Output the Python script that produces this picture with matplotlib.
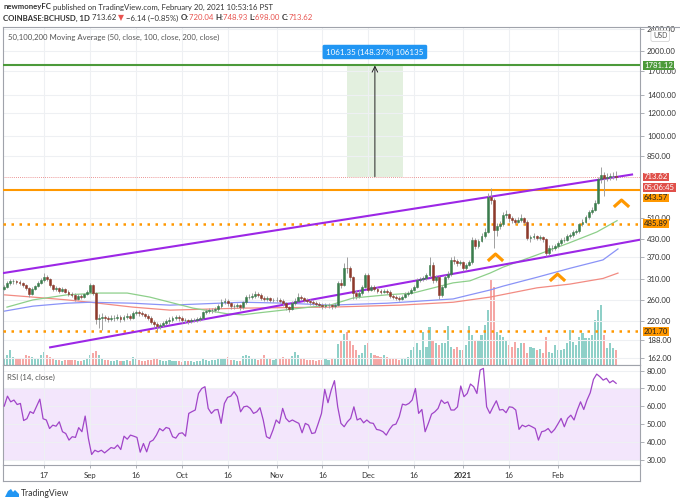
import numpy as np
import matplotlib
matplotlib.use('Agg')
import matplotlib.pyplot as plt
from matplotlib.path import Path
from matplotlib.ticker import FixedLocator, FuncFormatter, NullLocator
from matplotlib.lines import Line2D
from matplotlib.patches import Polygon

# ---------------- data (day index 0 = 2020-08-04, 200 = 2021-02-20) ----------------
closes = [
    290, 300, 304, 304, 302, 300, 295, 288, 274, 285,
    292, 300, 307, 316, 309, 295, 285, 288, 281, 285,
    279, 274, 272, 263, 270, 267, 274, 279, 295, 276,
    223, 225, 227, 225, 223, 225, 225, 227, 223, 227,
    229, 225, 234, 236, 234, 232, 229, 225, 218, 214,
    210, 212, 216, 219, 221, 225, 227, 225, 221, 221,
    219, 221, 221, 223, 225, 236, 238, 240, 240, 242,
    248, 256, 259, 254, 248, 248, 250, 246, 256, 267,
    267, 270, 274, 272, 265, 263, 265, 261, 261, 261,
    259, 254, 246, 242, 254, 259, 267, 265, 261, 259,
    256, 254, 252, 250, 248, 250, 250, 248, 250, 300,
    295, 340, 338, 314, 276, 270, 276, 290, 320, 283,
    290, 285, 281, 279, 281, 279, 270, 267, 265, 263,
    267, 274, 276, 283, 290, 307, 309, 312, 320, 347,
    307, 314, 272, 290, 314, 322, 362, 360, 353, 355,
    338, 347, 355, 427, 405, 423, 440, 455, 606, 593,
    463, 476, 484, 523, 527, 510, 503, 495, 503, 510,
    495, 434, 437, 440, 434, 437, 430, 384, 400, 400,
    404, 417, 427, 427, 440, 444, 455, 459, 484, 495,
    514, 536, 546, 576, 699, 724, 707, 713, 718, 720.04,
    713.62]
first_open = 286
highs = [
    296, 305, 310, 309, 308, 306, 303, 298, 291, 289,
    296, 304, 311, 325, 320, 312, 298, 293, 291, 290,
    288, 283, 278, 275, 273, 273, 277, 283, 300, 298,
    279, 232, 234, 231, 229, 230, 230, 232, 230, 231,
    234, 232, 238, 241, 240, 238, 235, 232, 228, 221,
    217, 216, 220, 223, 226, 229, 231, 230, 228, 225,
    224, 225, 225, 227, 229, 239, 243, 245, 244, 247,
    252, 262, 265, 262, 257, 253, 254, 253, 259, 272,
    273, 276, 280, 278, 275, 269, 270, 268, 266, 267,
    265, 262, 257, 249, 258, 264, 276, 272, 268, 265,
    262, 260, 258, 256, 254, 255, 255, 253, 254, 305,
    310, 352, 372, 345, 318, 282, 282, 295, 326, 324,
    296, 294, 289, 286, 286, 285, 282, 274, 271, 269,
    271, 278, 281, 287, 295, 312, 316, 318, 326, 370,
    355, 320, 318, 296, 320, 330, 370, 375, 366, 362,
    358, 354, 362, 438, 432, 430, 452, 470, 628, 650,
    600, 490, 498, 535, 545, 532, 518, 510, 515, 525,
    515, 500, 445, 450, 445, 444, 442, 433, 408, 410,
    412, 422, 433, 436, 448, 452, 462, 468, 490, 505,
    522, 545, 560, 590, 715, 776, 745, 740, 738, 745,
    748.93]
lows = [
    282, 287, 296, 298, 297, 294, 290, 282, 268, 271,
    282, 289, 297, 303, 304, 290, 280, 281, 277, 278,
    275, 270, 268, 258, 260, 263, 264, 271, 276, 272,
    215, 208, 204, 220, 218, 219, 220, 221, 218, 220,
    223, 221, 223, 231, 229, 228, 225, 221, 214, 208,
    201.7, 206, 209, 213, 215, 218, 221, 220, 216, 216,
    214, 216, 217, 218, 220, 223, 233, 235, 235, 237,
    239, 245, 252, 249, 243, 243, 244, 241, 243, 253,
    262, 263, 266, 267, 260, 258, 259, 256, 256, 256,
    254, 249, 240, 236, 240, 251, 256, 260, 256, 254,
    251, 250, 248, 246, 243, 244, 245, 243, 244, 248,
    288, 292, 325, 305, 262, 262, 265, 272, 287, 278,
    280, 281, 277, 274, 275, 274, 265, 262, 260, 258,
    260, 264, 270, 273, 280, 287, 302, 304, 308, 316,
    300, 302, 262, 268, 287, 310, 318, 350, 345, 347,
    330, 333, 343, 350, 395, 400, 418, 433, 450, 570,
    400, 440, 465, 478, 510, 495, 490, 485, 488, 495,
    485, 425, 420, 428, 425, 427, 420, 375, 378, 390,
    392, 398, 410, 418, 422, 434, 438, 448, 452, 476,
    488, 505, 525, 540, 570, 680, 610, 690, 698, 700,
    698]
volume = [
    7, 10, 15, 8, 6, 7, 7, 10, 9, 8,
    7, 7, 10, 13, 10, 8, 7, 5, 5, 4,
    5, 5, 5, 5, 4, 4, 5, 7, 10, 12,
    14, 10, 7, 5, 5, 4, 4, 5, 4, 4,
    5, 4, 8, 6, 5, 4, 4, 5, 5, 6,
    6, 5, 4, 4, 5, 4, 4, 4, 3, 4,
    4, 4, 3, 4, 4, 6, 5, 4, 5, 5,
    6, 7, 6, 8, 5, 5, 4, 4, 9, 10,
    9, 6, 6, 5, 6, 10, 7, 6, 5, 6,
    6, 8, 7, 6, 9, 13, 10, 7, 6, 5,
    5, 5, 4, 5, 5, 6, 5, 6, 7, 21,
    25, 31, 33, 25, 20, 15, 10, 12, 20, 22,
    12, 10, 9, 8, 10, 8, 7, 6, 6, 5,
    6, 7, 8, 15, 18, 22, 15, 33, 18, 38,
    25, 22, 20, 22, 22, 39, 18, 16, 18, 15,
    15, 20, 39, 30, 25, 25, 30, 40, 55, 85,
    78, 33, 30, 28, 25, 20, 18, 23, 17, 22,
    22, 12, 18, 17, 15, 16, 12, 28, 13, 12,
    20, 15, 15, 16, 22, 35, 23, 20, 28, 32,
    27, 27, 30, 45, 55, 60, 30, 17, 22, 17,
    15]
rsi = [
    60.1, 65.7, 62.5, 63.5, 61, 61.6, 52, 53, 57, 56,
    60, 64, 53, 52.3, 47.5, 49.4, 48.8, 51.3, 45.7, 44.7,
    41, 42.9, 42.5, 48, 45.7, 54.5, 41.9, 32.9, 35.3, 34.4,
    35.3, 33.8, 35.3, 36.8, 36.3, 38.2, 35.7, 43.2, 41.5, 43.8,
    43.2, 42.5, 34.2, 39.1, 34.4, 40, 41, 43.8, 47.5, 46.2,
    48.1, 47.5, 42.9, 42.1, 44.7, 45.1, 43.2, 56, 57, 57.9,
    67.2, 70, 71, 58.8, 56, 57.9, 58.2, 50.4, 61.6, 65,
    65.7, 68.2, 65.4, 56.9, 59.7, 60.1, 58.8, 56, 56.9, 59.2,
    52.3, 42.9, 41.9, 46.6, 52.3, 50.4, 58.8, 53.2, 51.3, 52.3,
    51.3, 50.4, 45.1, 50.4, 49.4, 44.7, 45.1, 50.4, 56, 69.5,
    62, 69.1, 74.4, 59.7, 50.4, 48.5, 51.3, 53.2, 59.7, 52.3,
    53.2, 50.7, 52.3, 50.7, 50.4, 47, 46.6, 45.7, 43.8, 47,
    49.4, 50, 54.1, 61.2, 60.7, 61.6, 63.5, 70, 56, 58.2,
    45.7, 50.4, 55.6, 56.9, 58.8, 63.5, 61.6, 62.5, 57.9, 57.9,
    59.7, 71.4, 65.4, 67.2, 72.5, 71, 67.2, 80.4, 81.3, 59.7,
    56, 59.7, 63.1, 57.9, 58.2, 56.4, 59.7, 59.4, 57.9, 47,
    49.4, 48.5, 49.4, 48.5, 47.5, 41, 45.7, 46.2, 47.5, 45.1,
    47, 50, 53.2, 48.5, 53.2, 55, 52.3, 57.9, 62.5, 58.2,
    63.5, 67.6, 75.1, 78.1, 76.6, 74.7, 75.7, 73.2, 74.4, 72.9]

ma50_days = [0.9, 9.4, 20.5, 31.3, 40.2, 47.6, 54.2, 61.7, 72.8, 78, 83.6, 91.1, 99.9,
             106.5, 114, 125.1, 133.6, 146.7, 152.2, 158.8, 163, 174.1, 184.9, 193.7, 200.3]
ma50 = [246, 261, 272, 276, 276, 267, 256, 244, 233, 231, 235, 240, 246,
        250, 265, 272, 276, 300, 305, 325, 341, 377, 417, 455, 499]
ma100_days = [0, 9.4, 20.5, 28, 42, 54.2, 78, 92.4, 106.5, 125.1, 146.7, 152.2, 158.8,
              163, 174.1, 184.9, 195.7, 200.6]
ma100 = [238, 248, 254, 256, 254, 250, 256, 254, 250, 254, 263, 272, 283,
         292, 314, 338, 362, 396]
ma200_days = [0, 9.4, 20.5, 28, 42, 54.2, 78, 106.5, 129.3, 146.7, 158.8, 174.1, 184.9,
              195.7, 200.6]
ma200 = [272, 267, 261, 256, 246, 240, 244, 246, 250, 256, 267, 288, 297, 311, 325]

channel_upper = ([-0.4, 205.2], [325, 728])
channel_lower = ([15, 207.8], [177, 427])
chevron_days = [160.4, 180.7, 201.6]
chevron_prices = [372, 314, 578]
levels_solid = {'1781.12': (1781.12, '#4c9a3a'), '643.57': (643.57, '#ff9800')}
levels_dotted = [485.89, 201.70]
measure_days = (112.0, 130.3)
measure_prices = (715.35, 1776.70)
measure_text = '1061.35 (148.37%) 106135'

tick_days = [13, 28, 43, 58, 73, 89, 104, 119, 134, 150, 165, 181]
tick_labels = ['17', 'Sep', '16', 'Oct', '16', 'Nov', '16', 'Dec', '16', '2021', '16', 'Feb']
price_ticks = [162, 188, 220, 260, 310, 370, 430, 510, 850, 1000, 1200, 1400, 1700, 2000, 2400]
rsi_ticks = [30, 40, 50, 60, 70, 80]

# ---------------- figure ----------------
plt.rcParams['font.family'] = ['Lato', 'DejaVu Sans']
W, H = 680, 504
fig = plt.figure(figsize=(W / 100, H / 100), dpi=100)
fig.patch.set_facecolor('white')

def fx(px):
    return px / W

def fy(py):
    return 1 - py / H

L, R = 3, 640
TOP, MB, RB = 27, 365, 465
rect_main = [fx(L), fy(MB), (R - L) / W, (MB - TOP) / H]
axv = fig.add_axes(rect_main)
ax = fig.add_axes(rect_main)
axr = fig.add_axes([fx(L), fy(RB), (R - L) / W, (RB - MB) / H])

XMIN, XMAX = -0.4, 207.8
GRID = '#eef0f3'
SPINE = '#a0a3ab'
TXT = '#333333'
LBL = 5.6

days = np.arange(len(closes))
c = np.array(closes, float)
o = np.array([first_open] + closes[:-1], float)
h = np.array(highs, float)
lo = np.array(lows, float)
up = c >= o

# volume (background axes)
axv.set_xlim(XMIN, XMAX)
axv.set_ylim(0, 338)
vcol = np.where(up, '#8fd0c8', '#f5a7a5')
axv.bar(days, volume, width=0.7, color=vcol, linewidth=0)
axv.axis('off')

# main price axes
ax.patch.set_visible(False)
ax.set_yscale('log')
ax.set_xlim(XMIN, XMAX)
ax.set_ylim(153.2, 2434)
ax.yaxis.tick_right()
ax.yaxis.set_major_locator(FixedLocator(price_ticks))
ax.yaxis.set_minor_locator(NullLocator())
ax.yaxis.set_major_formatter(FuncFormatter(lambda v, p: f'{v:.2f}'))
ax.set_xticks(tick_days)
ax.tick_params(axis='x', length=0, labelbottom=False)
ax.tick_params(axis='y', length=3, width=0.6, color=SPINE, labelsize=LBL,
               labelcolor=TXT, pad=2)
ax.grid(True, color=GRID, lw=0.8, zorder=0)
for s in ax.spines.values():
    s.set_color(SPINE)
    s.set_linewidth(0.8)
ax.spines['top'].set_visible(False)

# measurement box
ax.fill_between(measure_days, measure_prices[0], measure_prices[1],
                color='#5aa845', alpha=0.17, lw=0, zorder=1)
mx = (measure_days[0] + measure_days[1]) / 2
ax.annotate('', xy=(mx, measure_prices[1]), xytext=(mx, measure_prices[0]),
            arrowprops=dict(arrowstyle='->', color='#222222', lw=0.7,
                            shrinkA=0, shrinkB=0), zorder=4)
ax.text(mx, 1984, measure_text, ha='center', va='center', fontsize=5.8, color='white',
        zorder=6, bbox=dict(boxstyle='round,pad=0.45,rounding_size=0.2',
                            fc='#2196f3', ec='none'))

# horizontal levels
for lab, (val, col) in levels_solid.items():
    ax.axhline(val, color=col, lw=1.5, zorder=3)
for val in levels_dotted:
    ax.axhline(val, color='#ff9800', lw=1.8, ls=(0, (1, 2.2)), zorder=3)
ax.axhline(closes[-1], color='#e57373', lw=0.6, ls=(0, (1, 1.5)), zorder=2)

# moving averages
ax.plot(ma200_days, ma200, color='#f28b82', lw=0.9, zorder=2)
ax.plot(ma100_days, ma100, color='#8a93f7', lw=0.9, zorder=2)
ax.plot(ma50_days, ma50, color='#8dcf8a', lw=0.9, zorder=2)

# channel
ax.plot(*channel_upper, color='#9c27e6', lw=1.5, zorder=4)
ax.plot(*channel_lower, color='#9c27e6', lw=1.5, zorder=4)

# candles
ccol = np.where(up, '#3b7d4d', '#8e3a2c')
ax.vlines(days, lo, h, colors='#a0a0a0', lw=0.7, zorder=5)
ax.bar(days, np.abs(c - o), bottom=np.minimum(o, c), width=0.62, color=ccol,
       edgecolor=ccol, linewidth=0.4, zorder=5)

# chevrons
chev = Path([(-1, -0.45), (0, 0.45), (1, -0.45)],
            [Path.MOVETO, Path.LINETO, Path.LINETO])
ax.plot(chevron_days, chevron_prices, ls='none', marker=chev, markersize=11,
        markerfacecolor='none', markeredgecolor='#ff9800', markeredgewidth=2.3, zorder=6)

# right-side price labels (stacked like TradingView to avoid overlap)
def plabel(pos, text, fc, tc='white'):
    ax.text(1 + 4 / (R - L), pos, text, transform=ax.get_yaxis_transform(),
            ha='left', va='center', fontsize=LBL, color=tc, zorder=10, clip_on=False,
            bbox=dict(boxstyle='square,pad=0.12', fc=fc, ec='none'))

plabel(1781.12, '1781.12', '#4c9a3a')
plabel(closes[-1], f'{closes[-1]:.2f}', '#e0504a')
plabel(656, '05:06:45', '#e0504a')
plabel(601, '643.57', '#ff9800', '#222222')
plabel(485.89, '485.89', '#ff9800', '#222222')
plabel(201.70, '201.70', '#ff9800', '#222222')
ax.text(1 + 13 / (R - L), 1 - 9 / (MB - TOP), 'USD', transform=ax.transAxes,
        ha='left', va='center', fontsize=5, color='#555555',
        bbox=dict(boxstyle='round,pad=0.3', fc='white', ec='#cccccc', lw=0.5))

# RSI pane
axr.set_xlim(XMIN, XMAX)
axr.set_ylim(27.0, 83.2)
rsi_x = np.linspace(0, 200, len(rsi))
axr.axhspan(30, 70, color='#f3e6fc', lw=0, zorder=0)
for lv in (30, 70):
    axr.axhline(lv, color='#b5b5b5', lw=0.7, ls=(0, (3, 3)), zorder=1)
axr.plot(rsi_x, rsi, color='#a045c8', lw=0.9, zorder=3)
axr.yaxis.tick_right()
axr.set_yticks(rsi_ticks)
axr.yaxis.set_major_formatter(FuncFormatter(lambda v, p: f'{v:.2f}'))
axr.set_xticks(tick_days)
axr.set_xticklabels(tick_labels)
for lbl in axr.get_xticklabels():
    if lbl.get_text() == '2021':
        lbl.set_fontweight('bold')
axr.tick_params(axis='y', length=3, width=0.6, color=SPINE, labelsize=LBL,
                labelcolor=TXT, pad=2)
axr.tick_params(axis='x', length=2, width=0.6, color=SPINE, labelsize=LBL,
                labelcolor=TXT, pad=3)
axr.grid(True, color=GRID, lw=0.8, zorder=0)
for s in axr.spines.values():
    s.set_color(SPINE)
    s.set_linewidth(0.8)

# frame lines
def fline(x0, y0, x1, y1):
    fig.add_artist(Line2D([fx(x0), fx(x1)], [fy(y0), fy(y1)], color=SPINE, lw=0.8))

fline(L, TOP, 680, TOP)
fline(L, RB, L, 481)
fline(R, RB, R, 481)
fline(L, 481, R, 481)

# header text
rend = fig.canvas.get_renderer()

def seq_text(x, y, parts, size):
    xf = fx(x)
    for s, props in parts:
        t = fig.text(xf, fy(y), s, fontsize=size, va='center', ha='left',
                     color=props.get('color', TXT), fontweight=props.get('weight', 'normal'))
        xf += t.get_window_extent(renderer=rend).width / fig.bbox.width

seq_text(3, 7, [('newmoneyFC', {'weight': 'bold'}),
                (' published on TradingView.com, February 20, 2021 10:53:16 PST', {})], 5.55)
RED = '#e8534f'
seq_text(3, 18, [('COINBASE:BCHUSD, 1D', {'weight': 'bold'}),
                 (' 713.62 ', {}), ('▼', {'color': RED}),
                 (' \u22126.14 (\u22120.85%) ', {}),
                 ('O:', {'weight': 'bold'}), ('720.04 ', {'color': RED}),
                 ('H:', {'weight': 'bold'}), ('748.93 ', {'color': RED}),
                 ('L:', {'weight': 'bold'}), ('698.00 ', {'color': RED}),
                 ('C:', {'weight': 'bold'}), ('713.62', {'color': RED})], 5.55)

fig.text(fx(8), fy(37), '50,100,200 Moving Average (50, close, 100, close, 200, close)',
         fontsize=5.6, color='#555555', va='center', ha='left')
fig.text(fx(7), fy(377), 'RSI (14, close)', fontsize=5.6, color='#555555', va='center', ha='left')

# TradingView logo
logo = Polygon([[fx(5), fy(497)], [fx(8), fy(491)], [fx(11), fy(489)], [fx(13), fy(492)],
                [fx(15), fy(490)], [fx(19), fy(494)], [fx(19), fy(497)]],
               closed=True, fc='#2196f3', ec='none', transform=fig.transFigure)
fig.add_artist(logo)
fig.text(fx(21), fy(493), 'TradingView', fontsize=6.2, color='#333333', va='center', ha='left')

fig.savefig('out.png', dpi=100, facecolor='white')
